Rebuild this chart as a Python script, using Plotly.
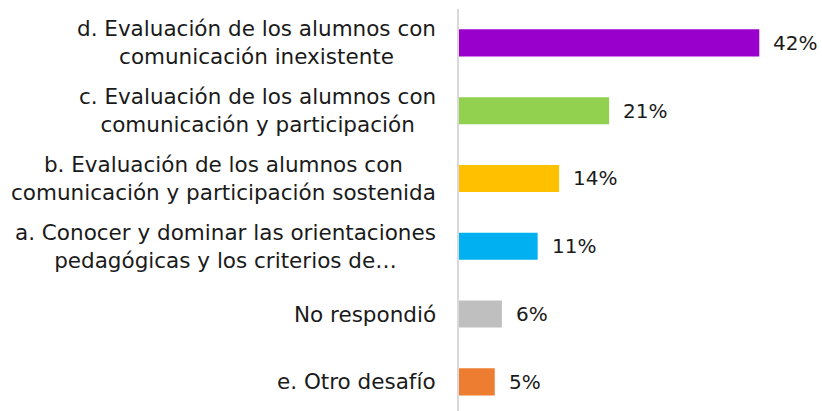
import plotly.graph_objects as go

categories = [
    "d. Evaluación de los alumnos con<br>comunicación inexistente",
    "c. Evaluación de los alumnos con<br>comunicación y participación",
    "b. Evaluación de los alumnos con<br>comunicación y participación sostenida",
    "a. Conocer y dominar las orientaciones<br>pedagógicas y los criterios de…",
    "No respondió",
    "e. Otro desafío",
]
values = [42, 21, 14, 11, 6, 5]
labels = ["42%", "21%", "14%", "11%", "6%", "5%"]
colors = ["#9900CC", "#92D050", "#FFC000", "#00B0F0", "#BFBFBF", "#ED7D31"]

FONT = "DejaVu Sans, Liberation Sans, Arial, sans-serif"
TXT = "#1a1a1a"

fig = go.Figure()
fig.add_trace(go.Bar(
    x=values, y=categories, orientation="h",
    marker=dict(color=colors, line=dict(width=0)),
    width=0.4, hoverinfo="skip",
))

annotations = []
for cat, v, lab in zip(categories, values, labels):
    annotations.append(dict(
        x=0, xref="paper", y=cat, yref="y", text=cat,
        xanchor="right", yanchor="middle", align="center", xshift=-21,
        showarrow=False, font=dict(family=FONT, size=21.5, color=TXT),
    ))
    annotations.append(dict(
        x=v, xref="x", y=cat, yref="y", text=lab,
        xanchor="left", yanchor="middle", xshift=12,
        showarrow=False, font=dict(family=FONT, size=20, color=TXT),
    ))

fig.update_layout(
    width=822, height=411,
    margin=dict(l=459, r=5, t=9, b=0, pad=0),
    paper_bgcolor="white", plot_bgcolor="white",
    showlegend=False,
    annotations=annotations,
    xaxis=dict(range=[0, 50.07], visible=False, showgrid=False, zeroline=False, fixedrange=True),
    yaxis=dict(
        type="category", categoryorder="array", categoryarray=categories,
        range=[5.43, -0.5], autorange=False,
        showticklabels=False, ticks="", showgrid=False, zeroline=False,
        showline=True, linecolor="#D9D9D9", linewidth=1.5, fixedrange=True,
    ),
)

fig.write_html(
    "out.html",
    config={"displayModeBar": False},
    post_script="document.body.style.margin='0';document.body.style.overflow='hidden';",
)
